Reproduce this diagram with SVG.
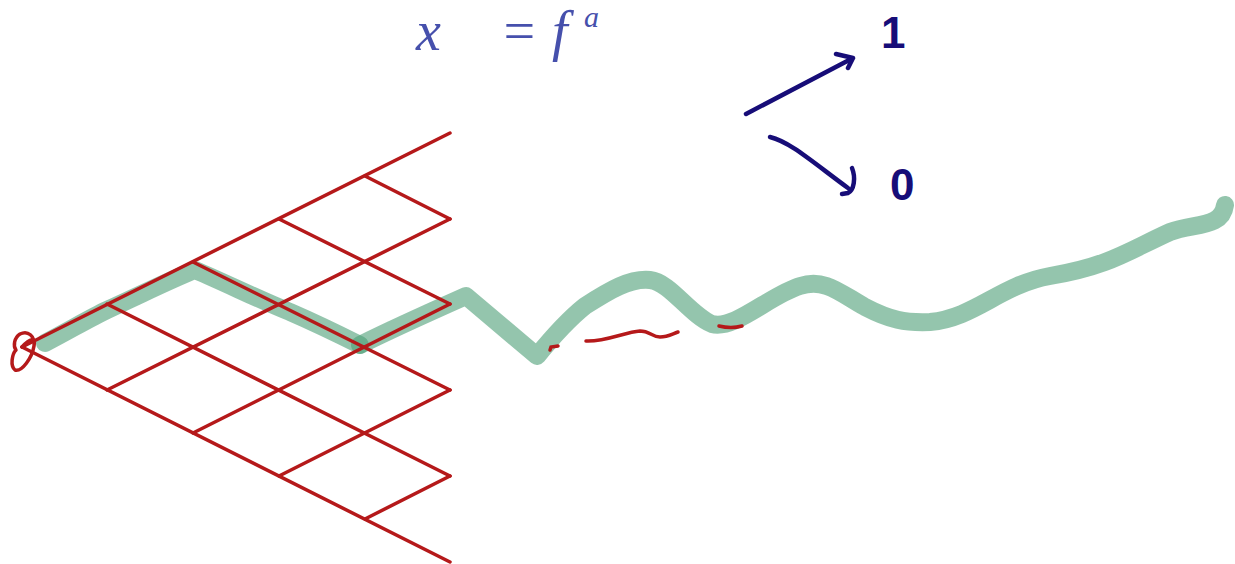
<svg xmlns="http://www.w3.org/2000/svg" width="1235" height="564" viewBox="0 0 1235 564">
<style>
.grid{stroke:#b5191a;stroke-width:3.5;fill:none;stroke-linecap:round;stroke-linejoin:round}
.path{stroke:#4d9e76;stroke-opacity:0.6;stroke-width:18;fill:none;stroke-linecap:round;stroke-linejoin:round}
.mark{stroke:#b5191a;stroke-width:3.5;fill:none;stroke-linecap:round}
.arr{stroke:#170d78;stroke-width:4.5;fill:none;stroke-linecap:round;stroke-linejoin:round}
.lbl{fill:#170d78;font-family:"Liberation Sans",sans-serif;font-size:44px;font-weight:bold}
.formula{fill:#4650ac;font-family:"Liberation Serif",serif;font-style:italic}
</style>
<rect width="1235" height="564" fill="#ffffff"/>
<g id="formula">
<text class="formula" x="416" y="50" font-size="56">x</text>
<text class="formula" x="500" y="50" font-size="56">=</text>
<text class="formula" x="552" y="50" font-size="56">f</text>
<text class="formula" x="584" y="27" font-size="30">a</text>
</g>
<g id="green-path">
<path class="path" d="M45,343 C70,330 90,318 107,310 C140,295 170,280 195,270 C230,285 260,300 290,312 C320,325 340,335 360,345"/>
<path class="path" d="M360,345 C390,330 430,312 466,296 L537,356 C550,340 565,322 585,306 C610,290 630,278 650,280 C670,282 690,315 712,324 C735,330 770,295 800,286 C825,278 840,293 865,307 C890,320 905,323 930,322 C975,318 1000,285 1050,276 C1110,266 1130,250 1170,232 C1195,223 1222,228 1225,205"/>
</g>
<g id="grid">
<path class="grid" d="M22,347 L450,133 M107,390 L450,219 M193,433 L450,304 M279,476 L450,390 M365,519 L450,476"/>
<path class="grid" d="M22,347 L450,562 M107,304 L450,476 M193,262 L450,390 M279,219 L450,304 M365,176 L450,219"/>
<path class="grid" d="M22,347 C30,338 36,337 34,346 C32,358 22,372 15,370 C10,366 12,354 16,350 C13,346 14,338 20,334 C28,330 35,336 34,346"/>
</g>
<g id="red-marks">
<path class="mark" d="M550,350 L551,347 L558,346"/>
<path class="mark" d="M586,341 C605,342 625,332 640,331 C650,331 652,337 660,337 C668,337 672,334 678,332"/>
<path class="mark" d="M719,326 C727,328 735,328 742,326"/>
</g>
<g id="label-1"><text class="lbl" x="881" y="48">1</text></g>
<g id="label-0"><text class="lbl" x="890" y="200">0</text></g>
<g id="connectors">
<path class="arr" d="M746,114 L853,58 M836,54 L853,58 L848,68"/>
<path class="arr" d="M770,137 C790,142 810,160 848,188 M852,168 C856,178 854,190 848,193 L842,194"/>
</g>
</svg>
